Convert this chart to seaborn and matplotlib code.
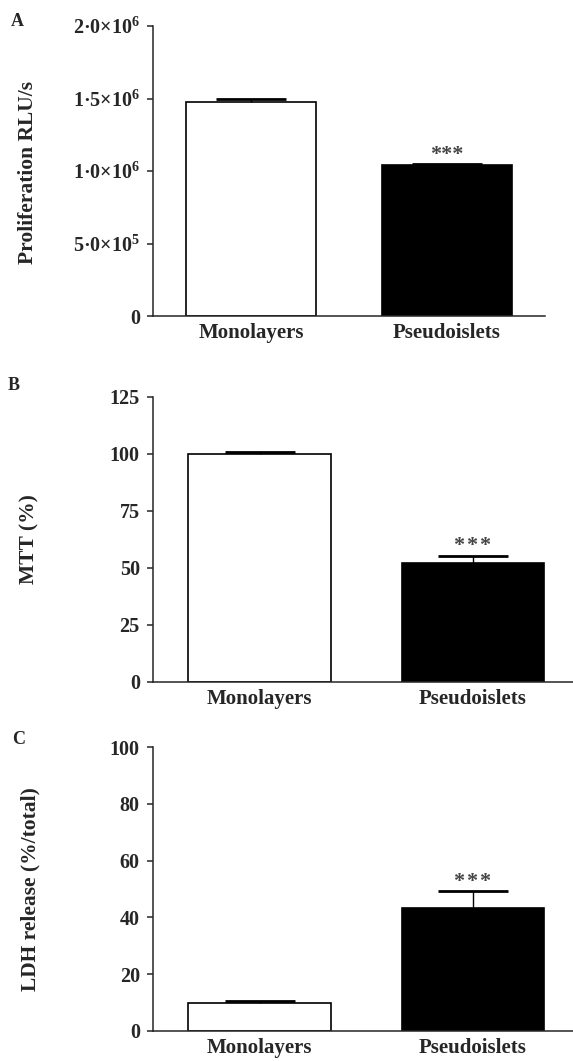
import matplotlib
matplotlib.use('Agg')
import matplotlib.pyplot as plt
import seaborn as sns
import pandas as pd

sns.set_style('ticks')
plt.rcParams['font.family'] = ['Liberation Serif', 'DejaVu Serif']
plt.rcParams['font.weight'] = 'bold'
plt.rcParams['mathtext.fontset'] = 'custom'
plt.rcParams['mathtext.rm'] = 'Liberation Serif:bold'
plt.rcParams['mathtext.bf'] = 'Liberation Serif:bold'
plt.rcParams['mathtext.it'] = 'Liberation Serif:bold'

# data
groups = ['Monolayers', 'Pseudoislets']
prolif_mean = [1.476e6, 1.041e6]
prolif_sem = [0.02e6, 0.005e6]
mtt_mean = [100.0, 52.2]
mtt_sem = [0.8, 3.1]
ldh_mean = [9.9, 43.4]
ldh_sem = [0.6, 5.9]

prolif_ticks = [0, 5e5, 1e6, 1.5e6, 2e6]
prolif_ticklabels = ['0', '5·0×10$^{5}$', '1·0×10$^{6}$', '1·5×10$^{6}$', '2·0×10$^{6}$']
mtt_ticks = [0, 25, 50, 75, 100, 125]
ldh_ticks = [0, 20, 40, 60, 80, 100]

W, H = 573, 1061
fig = plt.figure(figsize=(W / 100, H / 100), dpi=100)


def px_axes(left, right, top, bottom):
    return fig.add_axes([left / W, 1 - bottom / H, (right - left) / W, (bottom - top) / H])


def draw_panel(ax, means, sems, ticks, ticklabels, xmax, stars='***'):
    df = pd.DataFrame({'group': groups, 'value': means})
    sns.barplot(data=df, x='group', y='value', hue='group', legend=False,
                palette=['white', 'black'], edgecolor='black', linewidth=1.2,
                width=0.667, ax=ax)
    _, caps, _ = ax.errorbar(x=[0, 1], y=means, yerr=[[0, 0], sems], fmt='none',
                             ecolor='black', elinewidth=1, capsize=25, capthick=2)
    caps[0].set_visible(False)
    ax.annotate(stars, xy=(1, means[1] + sems[1]), xytext=(0, 3),
                textcoords='offset points', ha='center', va='baseline',
                fontsize=16, color='#444444')
    ax.set_xlim(-0.5, xmax)
    ax.set_ylim(0, ticks[-1])
    ax.set_yticks(ticks)
    ax.set_yticklabels(ticklabels)
    ax.set_xlabel('')
    ax.set_ylabel('')
    sns.despine(ax=ax)
    for s in ['left', 'bottom']:
        ax.spines[s].set_linewidth(1.1)
    ax.tick_params(axis='y', length=4.5, width=1.1, pad=5, labelsize=14.5)
    ax.tick_params(axis='x', length=0, pad=5, labelsize=15)
    for lab in ax.get_xticklabels() + ax.get_yticklabels():
        lab.set_fontweight('bold')


axA = px_axes(153, 545, 26, 316)
draw_panel(axA, prolif_mean, prolif_sem, prolif_ticks, prolif_ticklabels, 1.5)

axB = px_axes(153, 573, 396.7, 681.7)
draw_panel(axB, mtt_mean, mtt_sem, mtt_ticks, [str(t) for t in mtt_ticks], 1.47,
           stars='*\u200a*\u200a*')

axC = px_axes(153, 573, 747.3, 1030.7)
draw_panel(axC, ldh_mean, ldh_sem, ldh_ticks, [str(t) for t in ldh_ticks], 1.47,
           stars='*\u200a*\u200a*')

# y labels and panel letters
for txt, x, y in [('Proliferation RLU/s', 28, 173), ('MTT (%)', 29, 539),
                  ('LDH release (%/total)', 30, 889)]:
    fig.text(x / W, 1 - y / H, txt, rotation=90, ha='center', va='center',
             fontsize=15.5, fontweight='bold')
for txt, x, y in [('A', 17, 21), ('B', 14, 385), ('C', 19, 740)]:
    fig.text(x / W, 1 - y / H, txt, ha='center', va='center',
             fontsize=13, fontweight='bold')

fig.savefig('out.png', dpi=100)
